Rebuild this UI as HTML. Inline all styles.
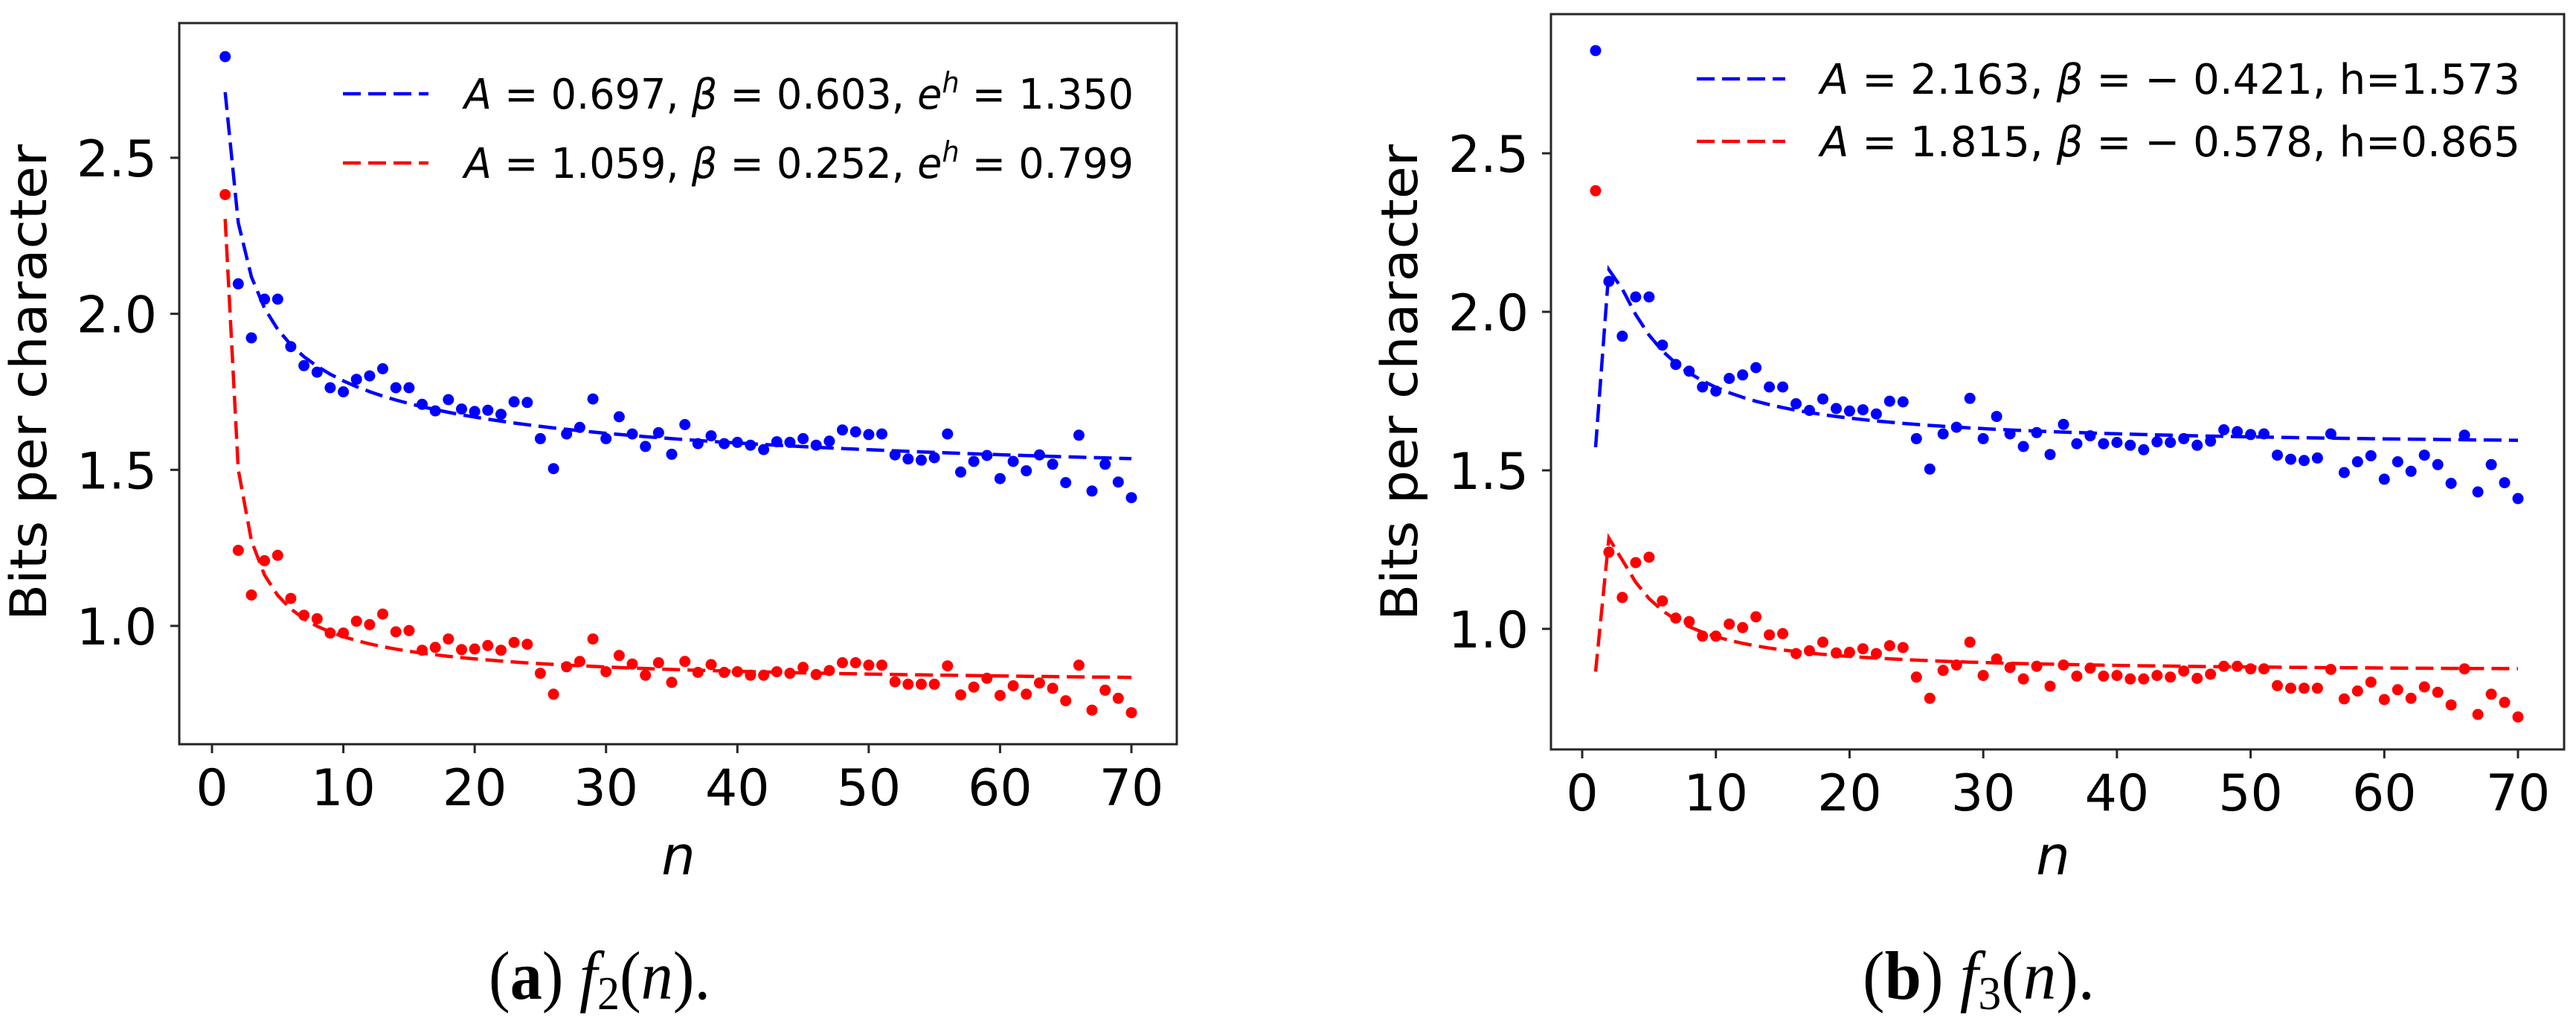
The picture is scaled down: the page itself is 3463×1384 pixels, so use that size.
<!DOCTYPE html>
<html><head><meta charset="utf-8"><style>
html,body{margin:0;padding:0;background:#fff;}
svg{display:block;}
</style></head><body>
<svg id="fig" width="3463" height="1384" viewBox="0 0 3463 1384" xmlns="http://www.w3.org/2000/svg" font-family="'DejaVu Sans', 'Liberation Sans', sans-serif">
<rect width="3463" height="1384" fill="#fff"/>
</svg>
<script>
// ---- data ----
const nValues = [1,2,3,4,5,6,7,8,9,10,11,12,13,14,15,16,17,18,19,20,21,22,23,24,25,26,27,28,29,30,31,32,33,34,35,36,37,38,39,40,41,42,43,44,45,46,47,48,49,50,51,52,53,54,55,56,57,58,59,60,61,62,63,64,65,66,67,68,69,70];
const blueBits = [2.824,2.096,1.923,2.047,2.047,1.895,1.834,1.813,1.763,1.750,1.790,1.801,1.824,1.763,1.763,1.710,1.689,1.725,1.695,1.687,1.691,1.678,1.718,1.716,1.600,1.504,1.615,1.636,1.727,1.600,1.670,1.615,1.575,1.619,1.550,1.645,1.584,1.609,1.584,1.588,1.579,1.565,1.590,1.588,1.600,1.579,1.592,1.628,1.622,1.613,1.615,1.548,1.535,1.531,1.539,1.615,1.493,1.527,1.546,1.472,1.527,1.497,1.548,1.518,1.459,1.611,1.432,1.518,1.461,1.411];
const redBits = [2.382,1.242,1.099,1.209,1.226,1.088,1.034,1.023,0.977,0.977,1.015,1.004,1.038,0.981,0.985,0.922,0.931,0.958,0.924,0.926,0.937,0.922,0.947,0.941,0.848,0.781,0.869,0.886,0.958,0.853,0.905,0.878,0.842,0.882,0.819,0.886,0.851,0.876,0.851,0.853,0.842,0.842,0.853,0.848,0.867,0.844,0.857,0.882,0.882,0.874,0.874,0.821,0.813,0.813,0.813,0.872,0.779,0.804,0.832,0.777,0.808,0.781,0.817,0.800,0.760,0.874,0.730,0.794,0.768,0.722];
// fit parameters: [A, beta, h]
const fit2Blue = [0.697, 0.603, 1.350];
const fit2Red = [1.059, 0.252, 0.799];
const fit3Blue = [2.163, -0.421, 1.573];
const fit3Red = [1.815, -0.578, 0.865];
const xTicks = [0,10,20,30,40,50,60,70];
const yTicks = [1.0,1.5,2.0,2.5];
const yTickLabels = ["1.0","1.5","2.0","2.5"];

const NS = "http://www.w3.org/2000/svg";
const svg = document.getElementById('fig');
function mk(tag, attrs, parent){
  const e = document.createElementNS(NS, tag);
  for (const k in attrs) e.setAttribute(k, attrs[k]);
  (parent||svg).appendChild(e);
  return e;
}
function f2(p, n){ return p[2]*Math.exp(p[0]*Math.pow(n, p[1]-1)); }
function f3(p, n){ return p[2] + p[0]*Math.pow(n, p[1]-1)*Math.log(n); }

function panel(cfg){
  const g = mk('g', {});
  
  
  const xs = v => cfg.x0 + (v - 0) * (cfg.x70 - cfg.x0) / 70;
  const ys = v => cfg.y25 + (2.5 - v) * (cfg.y10 - cfg.y25) / 1.5;
  const fits = [[cfg.fitB, '#0000ff', 'fit-line-blue'], [cfg.fitR, '#ff0000', 'fit-line-red']];
  fits.forEach(([p, col, nm]) => {
    const pts = nValues.map(n => xs(n).toFixed(1) + ',' + ys(cfg.fn(p, n)).toFixed(1)).join(' ');
    const l = mk('polyline', {points: pts, fill:'none', stroke: col, 'stroke-width': 4.5, 'stroke-dasharray': '24,10'}, g);
    
    
  });
  [[blueBits, '#0000ff', 'blue-point'], [redBits, '#ff0000', 'red-point']].forEach(([arr, col, nm]) => {
    arr.forEach((v, i) => {
      const c = mk('circle', {cx: xs(nValues[i]).toFixed(1), cy: ys(v).toFixed(1), r: 7.5, fill: col}, g);
      
      
    });
  });
  const fr = mk('rect', {x: cfg.L, y: cfg.T, width: cfg.R - cfg.L, height: cfg.B - cfg.T, fill: 'none', stroke: '#262626', 'stroke-width': 3}, g);
  
  
  xTicks.forEach(t => {
    const x = xs(t);
    const tk = mk('line', {x1: x, x2: x, y1: cfg.B, y2: cfg.B + 12, stroke: '#262626', 'stroke-width': 3}, g);
    
    
    const tx = mk('text', {x: x, y: cfg.B + 82, 'font-size': 68, 'text-anchor': 'middle', fill: '#000'}, g);
    tx.textContent = String(t);
    
    
  });
  yTicks.forEach((t, i) => {
    const y = ys(t);
    const tk = mk('line', {x1: cfg.L - 12, x2: cfg.L, y1: y, y2: y, stroke: '#262626', 'stroke-width': 3}, g);
    
    
    const tx = mk('text', {x: cfg.L - 30, y: y + 25, 'font-size': 68, 'text-anchor': 'end', fill: '#000'}, g);
    tx.textContent = yTickLabels[i];
    
    
  });
  const yl = mk('text', {x: 0, y: 0, 'font-size': 68, 'text-anchor': 'middle', fill: '#000', textLength: 640, lengthAdjust: 'spacingAndGlyphs', transform: `translate(${cfg.ylx},514) rotate(-90)`}, g);
  yl.textContent = 'Bits per character';
  
  
  const xl = mk('text', {x: cfg.xlx, y: 1175, 'font-size': 72, 'font-style': 'italic', 'text-anchor': 'middle', fill: '#000'}, g);
  xl.textContent = 'n';
  
  
  cfg.legend.forEach((lg, i) => {
    const y = cfg.legY[i];
    const ll = mk('line', {x1: cfg.legX1, x2: cfg.legX2, y1: y, y2: y, stroke: lg[1], 'stroke-width': 4.5, 'stroke-dasharray': '24,10'}, g);
    
    
    const t = mk('text', {x: cfg.legTx, y: y + 20, 'font-size': 56, fill: '#000', textLength: cfg.legTw, lengthAdjust: 'spacingAndGlyphs'}, g);
    t.innerHTML = lg[0];
    
    
  });
  const cap = mk('text', {x: cfg.capX, y: 1342, 'font-size': 92, 'text-anchor': 'middle', fill: '#000', 'font-family': "'Liberation Serif', serif", textLength: cfg.capW, lengthAdjust: 'spacingAndGlyphs'}, g);
  cap.innerHTML = cfg.caption;
  
  
}

panel({name:'panel-a', L:241, R:1582, T:31, B:1000, x0:285, x70:1521, y25:212, y10:841,
  fn:f2, fitB:fit2Blue, fitR:fit2Red, ylx:62, xlx:912,
  legX1:461, legX2:576, legTx:624, legTw:900, legY:[126,219],
  legend:[['<tspan font-style="italic">A</tspan> = 0.697, <tspan font-style="italic">β</tspan> = 0.603, <tspan font-style="italic">e</tspan><tspan font-style="italic" font-size="38" dy="-22">h</tspan><tspan dy="22"> = 1.350</tspan>','#0000ff'],
          ['<tspan font-style="italic">A</tspan> = 1.059, <tspan font-style="italic">β</tspan> = 0.252, <tspan font-style="italic">e</tspan><tspan font-style="italic" font-size="38" dy="-22">h</tspan><tspan dy="22"> = 0.799</tspan>','#ff0000']],
  capX:806, capW:298, caption:'(<tspan font-weight="bold">a</tspan>) <tspan font-style="italic">f</tspan><tspan font-size="64" dy="14">2</tspan><tspan dy="-14">(</tspan><tspan font-style="italic">n</tspan>).'});
panel({name:'panel-b', L:2085, R:3447, T:19, B:1007, x0:2127, x70:3385, y25:206, y10:845,
  fn:f3, fitB:fit3Blue, fitR:fit3Red, ylx:1905, xlx:2760,
  legX1:2281, legX2:2400, legTx:2447, legTw:941, legY:[106,190],
  legend:[['<tspan font-style="italic">A</tspan> = 2.163, <tspan font-style="italic">β</tspan> =  − 0.421, h=1.573','#0000ff'],
          ['<tspan font-style="italic">A</tspan> = 1.815, <tspan font-style="italic">β</tspan> =  − 0.578, h=0.865','#ff0000']],
  capX:2660, capW:312, caption:'(<tspan font-weight="bold">b</tspan>) <tspan font-style="italic">f</tspan><tspan font-size="64" dy="14">3</tspan><tspan dy="-14">(</tspan><tspan font-style="italic">n</tspan>).'});
</script>
</body></html>
